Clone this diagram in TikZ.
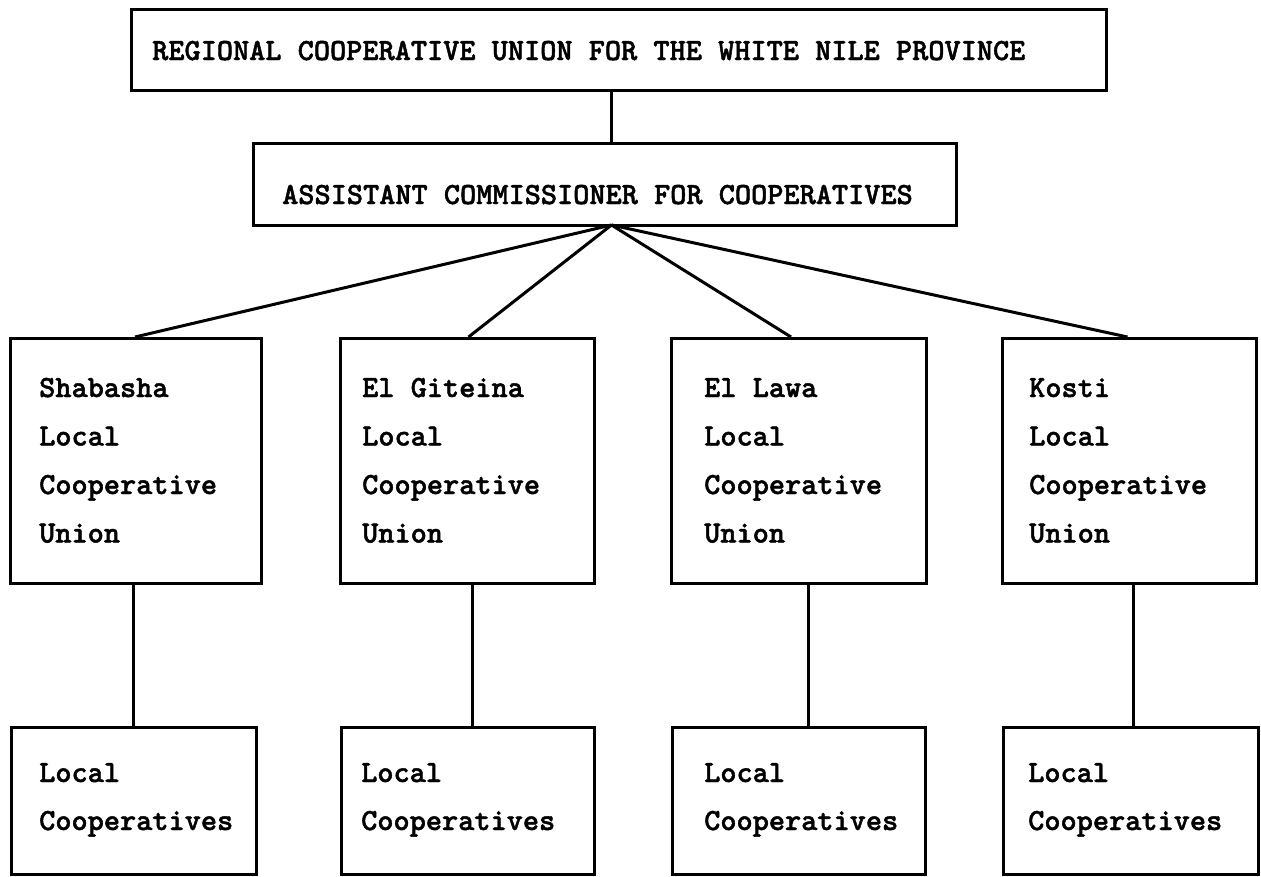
\documentclass[tikz,border=0pt]{standalone}
\usepackage{fontspec}
\newfontfamily\typew{lmmonolt10-bold.otf}[FakeBold=1.5]
\begin{document}
\begin{tikzpicture}[x=1pt,y=-1pt,
  box/.style={draw, line width=3pt, inner sep=0pt, anchor=north west},
  conn/.style={line width=3pt},
  lbl/.style={anchor=base west, inner sep=0pt, font=\typew\fontsize{30.8}{48}\selectfont}]
\useasboundingbox (0,0) rectangle (1261,876);
% top boxes
\node[box, minimum width=975pt, minimum height=81pt] (top) at (130,8) {};
\node[box, minimum width=703pt, minimum height=82pt] (asst) at (252,142) {};
\node[lbl] (ttop) at (152,60) {REGIONAL COOPERATIVE UNION FOR THE WHITE NILE PROVINCE};
\node[lbl] (tasst) at (282,204) {ASSISTANT COMMISSIONER FOR COOPERATIVES};
\coordinate (apex) at (611.5,225);
\draw[conn] (top.south -| apex) -- (asst.north -| apex);
% middle boxes
\node[box, minimum width=251pt, minimum height=245pt] (m1) at (9,337) {};
\node[box, minimum width=254pt, minimum height=245pt] (m2) at (339,337) {};
\node[box, minimum width=255pt, minimum height=245pt] (m3) at (670,337) {};
\node[box, minimum width=254pt, minimum height=245pt] (m4) at (1001,337) {};
% bottom boxes
\node[box, minimum width=245pt, minimum height=147pt] (b1) at (10,726) {};
\node[box, minimum width=253pt, minimum height=147pt] (b2) at (340,726) {};
\node[box, minimum width=253pt, minimum height=147pt] (b3) at (671,726) {};
\node[box, minimum width=255pt, minimum height=147pt] (b4) at (1002,726) {};
% middle texts
\foreach \n/\x/\first in {1/39/Shabasha, 2/362/El Giteina, 3/704/El Lawa, 4/1029/Kosti}{
  \node[lbl] (m\n a) at (\x,397) {\first};
  \node[lbl] (m\n b) at (\x,445.5) {Local};
  \node[lbl] (m\n c) at (\x,494) {Cooperative};
  \node[lbl] (m\n d) at (\x,542.5) {Union};
}
% bottom texts
\foreach \n/\x in {1/39, 2/361, 3/704, 4/1028}{
  \node[lbl] (b\n a) at (\x,782) {Local};
  \node[lbl] (b\n b) at (\x,830) {Cooperatives};
}
% fan connectors
\draw[conn] (apex) -- ([xshift=-1pt]m1.north);
\draw[conn] (apex) -- ([xshift=1pt]m2.north);
\draw[conn] (apex) -- ([xshift=-8pt]m3.north);
\draw[conn] (apex) -- ([xshift=-2pt]m4.north);
% vertical connectors
\draw[conn] ([xshift=-3pt]m1.south) -- ([xshift=-3pt]m1.south |- b1.north);
\draw[conn] ([xshift=4.5pt]m2.south) -- ([xshift=4.5pt]m2.south |- b2.north);
\draw[conn] ([xshift=9pt]m3.south) -- ([xshift=9pt]m3.south |- b3.north);
\draw[conn] ([xshift=3.5pt]m4.south) -- ([xshift=3.5pt]m4.south |- b4.north);
\end{tikzpicture}
\end{document}
